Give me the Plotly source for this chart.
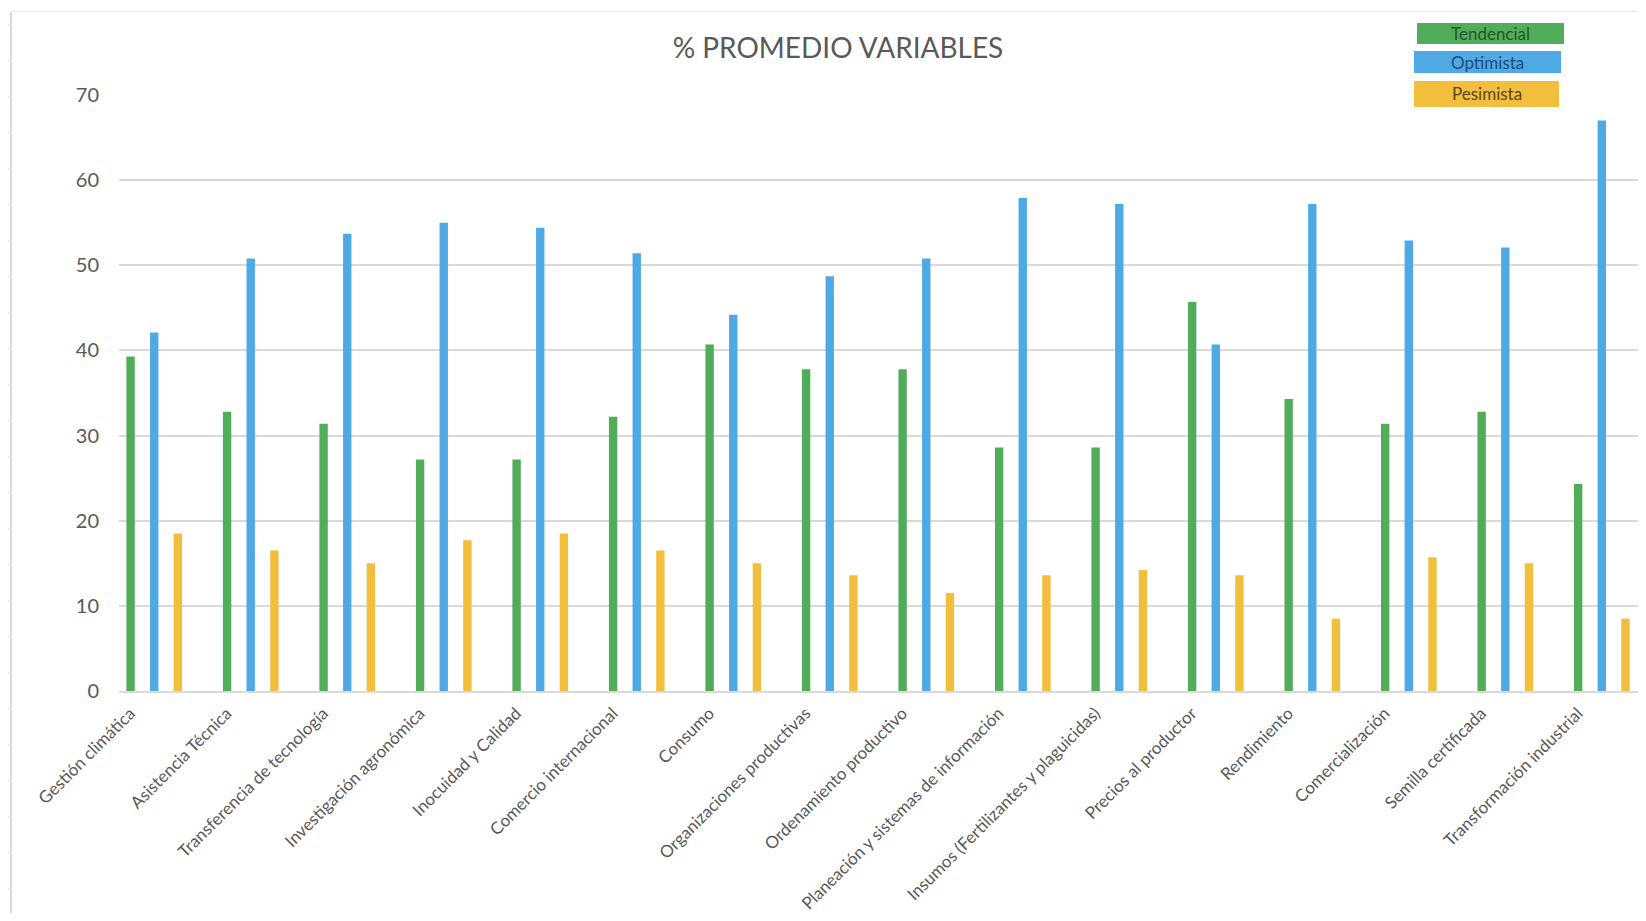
import plotly.graph_objects as go

categories = [
    "Gestión climática", "Asistencia Técnica", "Transferencia de tecnología",
    "Investigación agronómica", "Inocuidad y Calidad", "Comercio internacional",
    "Consumo", "Organizaciones productivas", "Ordenamiento productivo",
    "Planeación y sistemas de información", "Insumos (Fertilizantes y plaguicidas)",
    "Precios al productor", "Rendimiento", "Comercialización",
    "Semilla certificada", "Transformación industrial",
]
tendencial = [39.3, 32.8, 31.4, 27.2, 27.2, 32.2, 40.7, 37.8, 37.8, 28.6, 28.6, 45.7, 34.3, 31.4, 32.8, 24.3]
optimista = [42.1, 50.8, 53.7, 55.0, 54.4, 51.4, 44.2, 48.7, 50.8, 57.9, 57.2, 40.7, 57.2, 52.9, 52.1, 67.0]
pesimista = [18.5, 16.5, 15.0, 17.7, 18.5, 16.5, 15.0, 13.6, 11.5, 13.6, 14.2, 13.6, 8.5, 15.7, 15.0, 8.5]
y_ticks = [0, 10, 20, 30, 40, 50, 60, 70]

series_names = ["Tendencial", "Optimista", "Pesimista"]
colors = ["#52AD5A", "#4FA9E5", "#F2BE3D"]
text_colors = ["#24572B", "#1D4E78", "#5A4510"]

# page has an 8px body margin; figure sized to fit inside the 1646x921 window
OFF = 8
W, H = 1630, 905
ml, mr, mt, mb = 111, 0, 87, 222
FONT = "Lato"

fig = go.Figure()
idx = list(range(len(categories)))
for name, vals, col in zip(series_names, [tendencial, optimista, pesimista], colors):
    fig.add_trace(go.Bar(x=idx, y=vals, name=name, marker=dict(color=col, line=dict(width=0))))

fig.update_layout(
    width=W, height=H, autosize=False,
    margin=dict(l=ml, r=mr, t=mt, b=mb, pad=0),
    paper_bgcolor="white", plot_bgcolor="white",
    barmode="group", bargap=0.265, bargroupgap=0.645,
    showlegend=False,
    font=dict(family=FONT, color="#595959"),
    title=dict(text="% PROMEDIO VARIABLES", x=(838 - OFF) / W, xanchor="center",
               y=1 - (48 - OFF) / H, yanchor="middle",
               font=dict(family=FONT, size=28, color="#595959")),
)
fig.update_xaxes(
    range=[-0.365, 15.375], tickmode="array", tickvals=idx, ticktext=categories,
    tickangle=-45, tickfont=dict(family=FONT, size=17, color="#595959"),
    showgrid=False, showline=True, linecolor="#D9D9D9", linewidth=1.5,
    ticks="", zeroline=False, ticklabelshift=-24, ticklabelstandoff=4,
    automargin=False,
)
fig.update_yaxes(
    range=[0, 70], tickmode="array", tickvals=y_ticks,
    tickfont=dict(family=FONT, size=20, color="#595959"),
    showgrid=True, gridcolor="#D9D9D9", gridwidth=1.5,
    showline=False, zeroline=False, ticks="", ticklabelstandoff=19,
    automargin=False,
)

pw = W - ml - mr
ph = H - mt - mb
def px_to_paper(x, y):
    # x, y given in window pixels
    return (x - OFF - ml) / pw, (H - mb - (y - OFF)) / ph

# custom legend boxes
boxes = [(1417, 23, 147, 21), (1414, 51, 147, 22), (1414, 81, 145, 26)]
for (bx, by, bw, bh), name, col, tcol in zip(boxes, series_names, colors, text_colors):
    x0, y0 = px_to_paper(bx, by + bh)
    x1, y1 = px_to_paper(bx + bw, by)
    fig.add_shape(type="rect", xref="paper", yref="paper", x0=x0, y0=y0, x1=x1, y1=y1,
                  fillcolor=col, line=dict(width=0), layer="above")
    cx, cy = px_to_paper(bx + bw / 2, by + bh / 2)
    fig.add_annotation(xref="paper", yref="paper", x=cx, y=cy, text=name, showarrow=False,
                       xanchor="center", yanchor="middle",
                       font=dict(family=FONT, size=17, color=tcol))

# outer frame lines of the original chart image
lx, ty = px_to_paper(11, 11.5)
_, by_ = px_to_paper(11, 921)
rx, _ = px_to_paper(1646, 11.5)
fig.add_shape(type="line", xref="paper", yref="paper", x0=lx, x1=lx, y0=by_, y1=ty,
              line=dict(color="#D9D9D9", width=2))
fig.add_shape(type="line", xref="paper", yref="paper", x0=lx, x1=rx, y0=ty, y1=ty,
              line=dict(color="#E6E6E6", width=1))
tx0, _ = px_to_paper(8, 0)
yy = 25
while yy < 921:
    _, ty_ = px_to_paper(0, yy)
    fig.add_shape(type="line", xref="paper", yref="paper", x0=tx0, x1=lx, y0=ty_, y1=ty_,
                  line=dict(color="#E6E6E6", width=1.5))
    yy += 36

fig.write_html("out.html")
